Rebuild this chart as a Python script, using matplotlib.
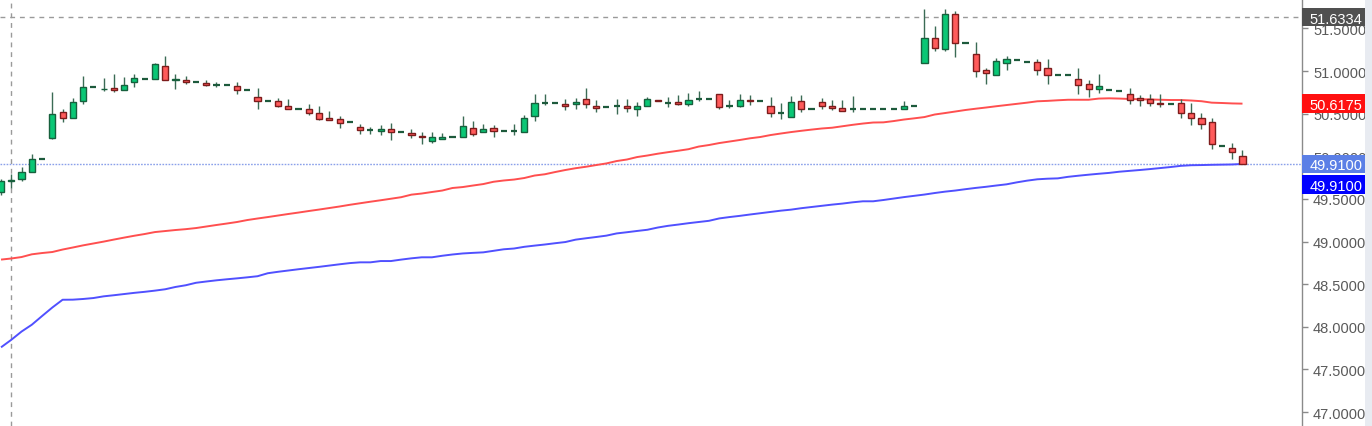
import matplotlib
matplotlib.use("Agg")
import matplotlib.pyplot as plt
from matplotlib.patches import Rectangle
from matplotlib.transforms import blended_transform_factory
import numpy as np

plt.rcParams['font.family'] = ['Liberation Sans', 'DejaVu Sans']

# ---------------- data ----------------
opens = [49.58, 49.71, 49.733, 49.82, 49.97, 50.22, 50.52, 50.445, 50.648, 50.81,
         50.79, 50.80, 50.78, 50.867, 50.91, 50.91, 51.06, 50.90, 50.89, 50.875,
         50.856, 50.836, 50.836, 50.824, 50.78, 50.695, 50.648, 50.65, 50.59, 50.558,
         50.558, 50.504, 50.449, 50.433, 50.405, 50.34, 50.305, 50.296, 50.32, 50.284,
         50.27, 50.24, 50.18, 50.20, 50.226, 50.222, 50.328, 50.28, 50.331, 50.30,
         50.293, 50.28, 50.469, 50.62, 50.62, 50.61, 50.61, 50.668, 50.593, 50.578,
         50.593, 50.593, 50.554, 50.586, 50.663, 50.628, 50.64, 50.616, 50.672, 50.675,
         50.727, 50.593, 50.586, 50.663, 50.648, 50.593, 50.507, 50.457, 50.648, 50.558,
         50.633, 50.593, 50.562, 50.558, 50.558, 50.558, 50.558, 50.558, 50.55, 50.593,
         51.10, 51.384, 51.258, 51.669, 51.325, 51.196, 51.008, 50.957, 51.09, 51.133,
         51.11, 51.109, 51.032, 50.953, 50.953, 50.903, 50.844, 50.79, 50.78, 50.765,
         50.727, 50.68, 50.668, 50.628, 50.616, 50.625, 50.507, 50.445, 50.402, 50.12,
         50.093, 50.003]
highs = [49.73, 49.79, 49.87, 50.03, 49.97, 50.757, 50.554, 50.68, 50.94, 50.81,
         50.914, 50.96, 50.933, 50.96, 50.91, 51.09, 51.18, 50.96, 50.945, 50.875,
         50.90, 50.867, 50.836, 50.874, 50.78, 50.80, 50.648, 50.68, 50.672, 50.558,
         50.613, 50.586, 50.527, 50.476, 50.405, 50.38, 50.347, 50.363, 50.39, 50.284,
         50.32, 50.288, 50.28, 50.27, 50.226, 50.469, 50.41, 50.375, 50.363, 50.30,
         50.375, 50.49, 50.73, 50.73, 50.62, 50.672, 50.68, 50.797, 50.663, 50.578,
         50.672, 50.672, 50.64, 50.70, 50.663, 50.70, 50.715, 50.74, 50.77, 50.675,
         50.727, 50.663, 50.73, 50.715, 50.648, 50.70, 50.62, 50.71, 50.72, 50.558,
         50.683, 50.663, 50.663, 50.703, 50.558, 50.558, 50.558, 50.558, 50.648, 50.593,
         51.727, 51.53, 51.727, 51.707, 51.325, 51.344, 51.035, 51.15, 51.172, 51.133,
         51.11, 51.14, 51.14, 50.953, 50.953, 51.035, 50.894, 50.965, 50.78, 50.765,
         50.797, 50.72, 50.73, 50.73, 50.616, 50.672, 50.625, 50.507, 50.445, 50.12,
         50.152, 50.07]
lows = [49.55, 49.63, 49.71, 49.82, 49.97, 50.20, 50.40, 50.445, 50.61, 50.81,
        50.76, 50.757, 50.78, 50.81, 50.91, 50.91, 50.894, 50.79, 50.85, 50.875,
        50.82, 50.816, 50.836, 50.73, 50.78, 50.554, 50.648, 50.574, 50.554, 50.558,
        50.49, 50.42, 50.42, 50.335, 50.405, 50.26, 50.257, 50.246, 50.187, 50.284,
        50.218, 50.144, 50.16, 50.20, 50.226, 50.222, 50.234, 50.28, 50.23, 50.30,
        50.25, 50.28, 50.417, 50.60, 50.62, 50.546, 50.56, 50.57, 50.515, 50.578,
        50.496, 50.515, 50.476, 50.586, 50.645, 50.58, 50.60, 50.593, 50.65, 50.675,
        50.554, 50.566, 50.574, 50.60, 50.648, 50.464, 50.437, 50.457, 50.515, 50.558,
        50.554, 50.54, 50.53, 50.523, 50.558, 50.558, 50.558, 50.558, 50.55, 50.593,
        51.10, 51.23, 51.23, 51.16, 51.325, 50.933, 50.847, 50.953, 51.008, 51.133,
        51.11, 50.953, 50.847, 50.953, 50.953, 50.73, 50.70, 50.738, 50.78, 50.765,
        50.613, 50.593, 50.593, 50.58, 50.616, 50.452, 50.367, 50.32, 50.085, 50.12,
        49.968, 49.91]
closes = [49.71, 49.725, 49.81, 49.97, 49.97, 50.50, 50.445, 50.636, 50.81, 50.81,
          50.795, 50.777, 50.84, 50.914, 50.91, 51.08, 50.894, 50.906, 50.867, 50.875,
          50.836, 50.836, 50.836, 50.777, 50.78, 50.645, 50.648, 50.59, 50.558, 50.558,
          50.504, 50.44, 50.425, 50.394, 50.405, 50.31, 50.305, 50.32, 50.28, 50.284,
          50.25, 50.222, 50.226, 50.226, 50.226, 50.355, 50.265, 50.316, 50.293, 50.30,
          50.293, 50.445, 50.62, 50.62, 50.62, 50.59, 50.636, 50.616, 50.57, 50.578,
          50.593, 50.57, 50.59, 50.668, 50.645, 50.628, 50.616, 50.663, 50.672, 50.675,
          50.58, 50.593, 50.663, 50.645, 50.648, 50.504, 50.507, 50.633, 50.56, 50.558,
          50.59, 50.562, 50.53, 50.558, 50.558, 50.558, 50.558, 50.558, 50.59, 50.593,
          51.384, 51.266, 51.669, 51.325, 51.325, 51.0035, 50.973, 51.117, 51.137, 51.133,
          51.11, 51.012, 50.957, 50.953, 50.953, 50.84, 50.79, 50.828, 50.78, 50.765,
          50.663, 50.66, 50.628, 50.616, 50.616, 50.504, 50.452, 50.382, 50.147, 50.12,
          50.046, 49.91]

ma_red = [48.788, 48.801, 48.818, 48.850, 48.865, 48.877, 48.906, 48.930, 48.955, 48.977,
          48.999, 49.023, 49.046, 49.068, 49.088, 49.111, 49.123, 49.135, 49.145, 49.158,
          49.176, 49.194, 49.211, 49.229, 49.252, 49.270, 49.287, 49.305, 49.323, 49.340,
          49.358, 49.375, 49.393, 49.411, 49.431, 49.449, 49.467, 49.484, 49.502, 49.520,
          49.550, 49.563, 49.581, 49.598, 49.628, 49.639, 49.657, 49.674, 49.701, 49.716,
          49.727, 49.745, 49.774, 49.789, 49.815, 49.839, 49.860, 49.877, 49.897, 49.916,
          49.944, 49.962, 49.991, 50.009, 50.030, 50.048, 50.065, 50.083, 50.114, 50.132,
          50.155, 50.173, 50.191, 50.211, 50.226, 50.249, 50.267, 50.284, 50.299, 50.313,
          50.326, 50.335, 50.352, 50.369, 50.384, 50.396, 50.398, 50.413, 50.431, 50.445,
          50.460, 50.490, 50.507, 50.525, 50.543, 50.558, 50.572, 50.587, 50.601, 50.615,
          50.629, 50.645, 50.650, 50.657, 50.663, 50.663, 50.663, 50.677, 50.680, 50.677,
          50.672, 50.669, 50.667, 50.663, 50.660, 50.660, 50.654, 50.646, 50.629, 50.625,
          50.620, 50.6175]
ma_blue = [47.759, 47.847, 47.944, 48.024, 48.126, 48.226, 48.317, 48.318, 48.326, 48.337,
           48.357, 48.370, 48.384, 48.398, 48.410, 48.424, 48.440, 48.467, 48.487, 48.516,
           48.531, 48.545, 48.557, 48.568, 48.580, 48.593, 48.628, 48.645, 48.660, 48.675,
           48.689, 48.703, 48.718, 48.733, 48.747, 48.756, 48.756, 48.771, 48.771, 48.788,
           48.803, 48.815, 48.815, 48.833, 48.848, 48.860, 48.867, 48.873, 48.891, 48.909,
           48.918, 48.938, 48.952, 48.965, 48.980, 48.994, 49.022, 49.038, 49.053, 49.069,
           49.095, 49.109, 49.124, 49.138, 49.164, 49.184, 49.199, 49.215, 49.229, 49.243,
           49.271, 49.287, 49.301, 49.317, 49.332, 49.347, 49.362, 49.374, 49.391, 49.405,
           49.419, 49.433, 49.445, 49.460, 49.472, 49.472, 49.487, 49.504, 49.521, 49.536,
           49.551, 49.569, 49.585, 49.598, 49.614, 49.629, 49.642, 49.657, 49.671, 49.694,
           49.714, 49.730, 49.737, 49.741, 49.759, 49.772, 49.784, 49.795, 49.805, 49.819,
           49.829, 49.839, 49.850, 49.862, 49.874, 49.888, 49.895, 49.897, 49.900, 49.902,
           49.904, 49.910]

ytick_values = [47.0, 47.5, 48.0, 48.5, 49.0, 49.5, 50.0, 50.5, 51.0, 51.5]
crosshair_price = 51.6334
crosshair_bar = 0.95
last_price = closes[-1]
red_ma_last = ma_red[-1]
blue_ma_last = ma_blue[-1]

# ---------------- figure ----------------
W, H = 1372, 427
fig = plt.figure(figsize=(W / 100, H / 100), dpi=100)
fig.patch.set_facecolor('white')
AX_R = 1302 / W
ax = fig.add_axes([0, 0, AX_R, 1])
ax.set_facecolor('white')

n = len(opens)
x = np.arange(n)
o = np.array(opens); h = np.array(highs); l = np.array(lows); c = np.array(closes)

UP_FILL, UP_EDGE = '#0ac775', '#17603d'
DN_FILL, DN_EDGE = '#ff5b5b', '#7d1c1c'
WICK = '#3b6b55'
BW = 0.6

# wicks
has_wick = h > l
ax.vlines(x[has_wick], l[has_wick], h[has_wick], color=WICK, lw=1.0, zorder=3)

# bodies
for i in range(n):
    if o[i] == c[i]:
        ax.hlines(o[i], i - BW / 2, i + BW / 2, color='#1d5a3c', lw=1.6, zorder=4)
        continue
    up = c[i] > o[i]
    bottom = min(o[i], c[i])
    height = abs(c[i] - o[i])
    ax.bar(i, height, bottom=bottom, width=BW,
           color=UP_FILL if up else DN_FILL,
           edgecolor=UP_EDGE if up else DN_EDGE, linewidth=1.0, zorder=4)

# moving averages
ax.plot(x, ma_red, color='#ff4f4f', lw=1.4, zorder=2, solid_capstyle='butt')
ax.plot(x, ma_blue, color='#5050ff', lw=1.4, zorder=2, solid_capstyle='butt')

# price line and crosshair
ax.axhline(last_price, color='#8aa0ea', lw=1.0, ls=(0, (1.2, 1.0)), zorder=1)
ax.axhline(crosshair_price, color='#9a9a9a', lw=1.0, ls=(0, (3.5, 3.5)), zorder=1)
ax.axvline(crosshair_bar, color='#9a9a9a', lw=1.0, ls=(0, (3.5, 3.5)), zorder=1)

ax.set_xlim(-0.1, 126.8)
ax.set_ylim(46.836, 51.845)
ax.set_xticks([])
ax.yaxis.tick_right()
ax.set_yticks(ytick_values)
ax.set_yticklabels([f"{v:.4f}" for v in ytick_values])
ax.tick_params(axis='y', direction='out', length=4, width=1, color='#8a8a8a',
               labelcolor='#5a5a5a', labelsize=10.5, pad=4)
for s in ['left', 'top', 'bottom']:
    ax.spines[s].set_visible(False)
ax.spines['right'].set_color('#8a8a8a')
ax.spines['right'].set_linewidth(1.0)

# right gray strip
fig.add_artist(Rectangle((1365 / W, 0), 7 / W, 1, transform=fig.transFigure,
                         facecolor='#e8ebf1', edgecolor='none', zorder=1))

# value labels on the price axis
tr = blended_transform_factory(fig.transFigure, ax.transData)
px = (51.845 - 46.836) / H  # data units per pixel
def price_box(value, color, text, center=None):
    yc = value if center is None else center
    hh = 18.5 * px
    fig.add_artist(Rectangle((AX_R, yc - hh / 2), (1365 - 1302) / W, hh, transform=tr,
                             facecolor=color, edgecolor='none', zorder=5))
    fig.text(1309.5 / W, yc, text, transform=tr, color='white', fontsize=10.5,
             va='center_baseline', ha='left', zorder=6)

price_box(crosshair_price, '#505050', f"{crosshair_price:.4f}")
price_box(red_ma_last, '#ff1010', f"{red_ma_last:.4f}")
price_box(last_price, '#5b7fe6', f"{last_price:.4f}")
price_box(blue_ma_last, '#0000ff', f"{blue_ma_last:.4f}", center=blue_ma_last - 20.5 * px)

fig.savefig('out.png', dpi=100)
